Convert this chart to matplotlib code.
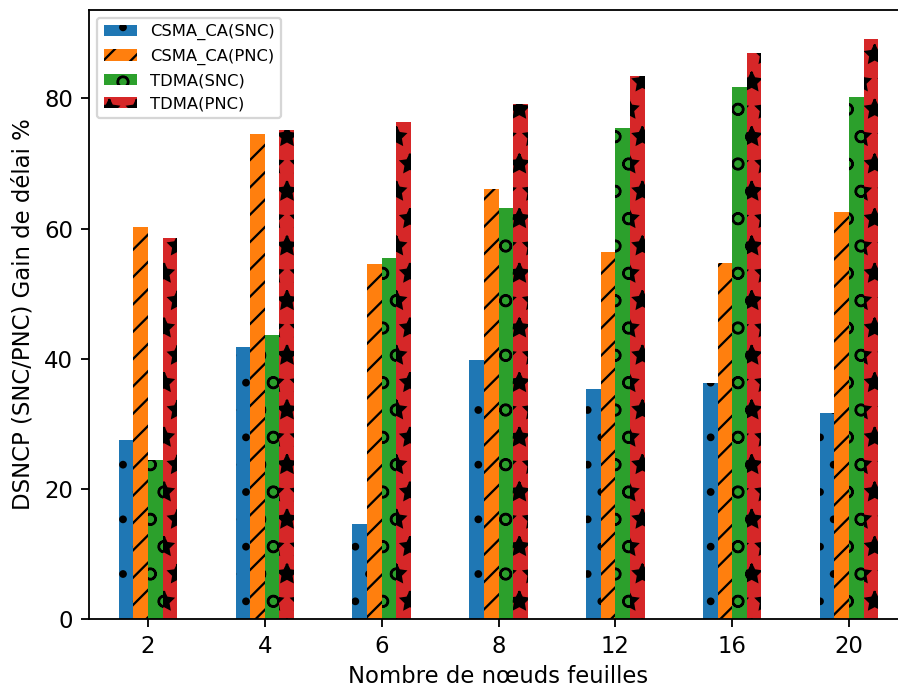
import matplotlib
matplotlib.use("Agg")
import matplotlib.pyplot as plt
import numpy as np

categories = ["2", "4", "6", "8", "12", "16", "20"]
csma_snc = [27.5, 41.8, 14.6, 39.8, 35.3, 36.2, 31.6]
csma_pnc = [60.2, 74.5, 54.5, 66.0, 56.4, 54.7, 62.6]
tdma_snc = [24.5, 43.6, 55.4, 63.1, 75.4, 81.7, 80.2]
tdma_pnc = [58.6, 75.2, 76.3, 79.2, 83.5, 86.9, 89.2]
labels = ["CSMA_CA(SNC)", "CSMA_CA(PNC)", "TDMA(SNC)", "TDMA(PNC)"]

dpi = 164
fig = plt.figure(figsize=(898 / dpi, 688 / dpi), dpi=dpi)
ax = fig.add_axes([89 / 898, 69 / 688, 819 / 898, (619 - 9.5) / 688])

x = np.arange(len(categories))
w = 0.125
series = [csma_snc, csma_pnc, tdma_snc, tdma_pnc]
colors = ["#1f77b4", "#ff7f0e", "#2ca02c", "#d62728"]
hatches = [".", "//", "o", "*"]
for i, (vals, c, h, lab) in enumerate(zip(series, colors, hatches, labels)):
    ax.bar(x + (i - 1.5) * w, vals, w, color=c, hatch=h, label=lab)

ax.set_xticks(x)
ax.set_xticklabels(categories, fontsize=10)
ax.tick_params(axis="y", labelsize=10)
ax.set_xlim(-0.505, 6.505)
ax.set_xlabel("Nombre de nœuds feuilles", fontsize=10, labelpad=3)
ax.set_ylabel("DSNCP (SNC/PNC) Gain de délai %", fontsize=10)
ax.legend(loc="upper left", fontsize=7.2)

fig.savefig("out.png", dpi=dpi)
